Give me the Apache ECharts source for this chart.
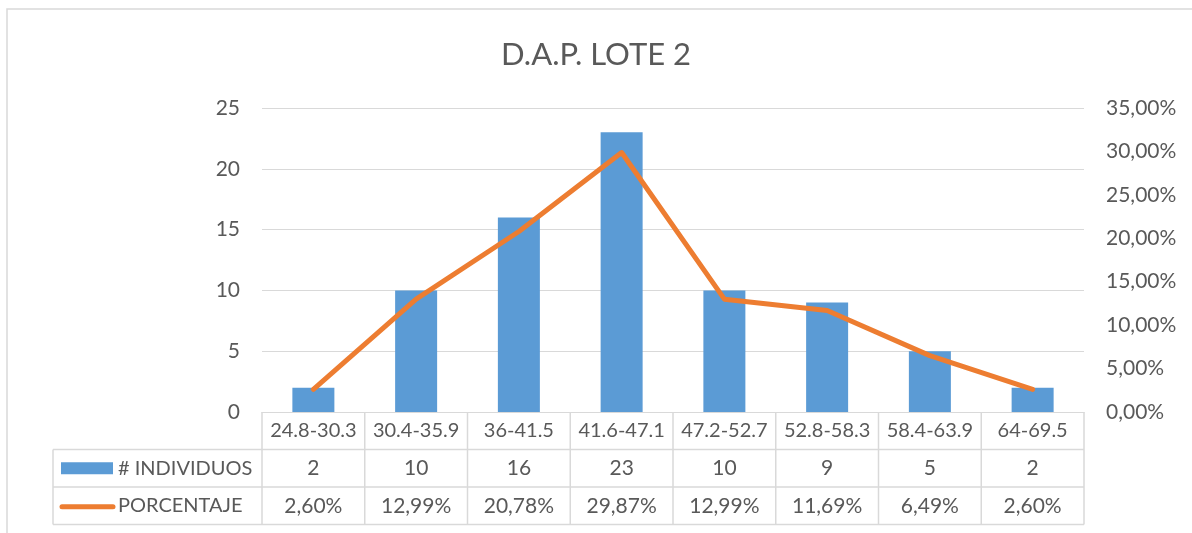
<!DOCTYPE html>
<html>
<head>
<meta charset="utf-8">
<script src="https://cdn.jsdelivr.net/npm/echarts@6/dist/echarts.min.js"></script>
<style>
  html, body { margin: 0; padding: 0; background: #fff; }
  #chart { width: 1192px; height: 533px; }
</style>
</head>
<body>
<div id="chart"></div>
<script>
var categories = ['24.8-30.3', '30.4-35.9', '36-41.5', '41.6-47.1', '47.2-52.7', '52.8-58.3', '58.4-63.9', '64-69.5'];
var individuos = [2, 10, 16, 23, 10, 9, 5, 2];
var porcentaje = [2.60, 12.99, 20.78, 29.87, 12.99, 11.69, 6.49, 2.60];
var seriesNames = ['# INDIVIDUOS', 'PORCENTAJE'];

var font = 'Lato';
var textColor = '#595959';
var gridColor = '#d9d9d9';
var blue = '#5b9bd5';
var orange = '#ed7d31';

function pct(v) {
  return v.toFixed(2).replace('.', ',') + '%';
}

var myChart = echarts.init(document.getElementById('chart'));
myChart.setOption({
  animation: false,
  textStyle: { fontFamily: font },
  title: {
    text: 'D.A.P. LOTE 2',
    left: 'center',
    top: 34,
    textStyle: { fontFamily: font, fontSize: 31, fontWeight: 'normal', color: textColor }
  },
  grid: { left: 262, right: 108, top: 108, bottom: 121 },
  xAxis: {
    type: 'category',
    data: categories,
    axisLine: { lineStyle: { color: gridColor } },
    axisTick: { show: false },
    axisLabel: { color: textColor, fontSize: 20, margin: 9, fontFamily: font, interval: 0, hideOverlap: false }
  },
  yAxis: [
    {
      type: 'value', min: 0, max: 25, interval: 5,
      axisLine: { show: false }, axisTick: { show: false },
      splitLine: { lineStyle: { color: gridColor, width: 1 } },
      axisLabel: { color: textColor, fontSize: 21, margin: 22, fontFamily: font }
    },
    {
      type: 'value', min: 0, max: 35, interval: 5,
      axisLine: { show: false }, axisTick: { show: false },
      splitLine: { show: false },
      axisLabel: { color: textColor, fontSize: 21, margin: 22, fontFamily: font, formatter: function (v) { return pct(v); } }
    }
  ],
  series: [
    {
      name: seriesNames[0], type: 'bar', data: individuos, yAxisIndex: 0,
      barWidth: 42, itemStyle: { color: blue }
    },
    {
      name: seriesNames[1], type: 'line', data: porcentaje, yAxisIndex: 1,
      showSymbol: false, symbol: 'none',
      lineStyle: { color: orange, width: 5, cap: 'round', join: 'round' }
    }
  ]
});

// data table under the plot
function buildTable() {
  var c0 = myChart.convertToPixel({ xAxisIndex: 0 }, 0);
  var c1 = myChart.convertToPixel({ xAxisIndex: 0 }, 1);
  var band = c1 - c0;
  var xLeft = c0 - band / 2;
  var xRight = xLeft + band * categories.length;
  var yAxis0 = myChart.convertToPixel({ yAxisIndex: 0 }, 0);
  var rowH = 37.5;
  var y1 = yAxis0 + rowH, y2 = y1 + rowH, y3 = y2 + rowH;
  var legendLeft = 53;
  var line = { stroke: gridColor, lineWidth: 1.5 };
  var cellFont = '21px "' + font + '"';
  var legFont = '20px "' + font + '"';
  var g = [];
  g.push({ type: 'rect', shape: { x: 7, y: 9, width: 1200, height: 600 }, style: { fill: null, stroke: gridColor, lineWidth: 1.5 }, silent: true });
  [y1, y2, y3].forEach(function (y) {
    g.push({ type: 'line', shape: { x1: legendLeft, y1: y, x2: xRight, y2: y }, style: line });
  });
  g.push({ type: 'line', shape: { x1: legendLeft, y1: y1, x2: legendLeft, y2: y3 }, style: line });
  for (var i = 0; i <= categories.length; i++) {
    var x = xLeft + band * i;
    g.push({ type: 'line', shape: { x1: x, y1: yAxis0, x2: x, y2: y3 }, style: line });
  }
  categories.forEach(function (c, i) {
    var cx = myChart.convertToPixel({ xAxisIndex: 0 }, i);
    g.push({ type: 'text', x: cx, y: (y1 + y2) / 2, style: { text: String(individuos[i]), fill: textColor, font: cellFont, align: 'center', verticalAlign: 'middle' } });
    g.push({ type: 'text', x: cx, y: (y2 + y3) / 2, style: { text: pct(porcentaje[i]), fill: textColor, font: cellFont, align: 'center', verticalAlign: 'middle' } });
  });
  g.push({ type: 'rect', shape: { x: 61, y: (y1 + y2) / 2 - 6, width: 52, height: 12 }, style: { fill: blue } });
  g.push({ type: 'text', x: 118, y: (y1 + y2) / 2, style: { text: seriesNames[0], fill: textColor, font: legFont, align: 'left', verticalAlign: 'middle' } });
  g.push({ type: 'line', shape: { x1: 62, y1: (y2 + y3) / 2 + 1, x2: 113, y2: (y2 + y3) / 2 + 1 }, style: { stroke: orange, lineWidth: 5, lineCap: 'round' } });
  g.push({ type: 'text', x: 118, y: (y2 + y3) / 2, style: { text: seriesNames[1], fill: textColor, font: legFont, align: 'left', verticalAlign: 'middle' } });
  myChart.setOption({ graphic: g });
}
buildTable();
</script>
</body>
</html>
